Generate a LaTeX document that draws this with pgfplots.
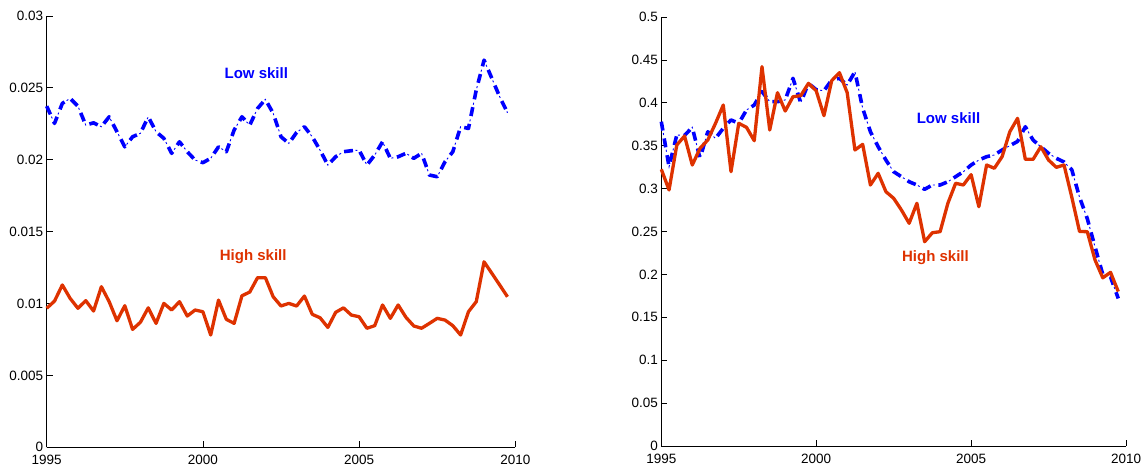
\documentclass[border=0pt]{standalone}
\usepackage{fontspec}
\setmainfont{Liberation Sans}
\usepackage{pgfplots}
\usepackage{pgfplotstable}
\pgfplotsset{compat=1.18}
\definecolor{lowblue}{RGB}{0,0,255}
\definecolor{highred}{RGB}{222,50,0}

% quarterly series, left panel (L) and right panel (R)
\pgfplotstableread{
x       lowL     highL    lowR    highR
1995.00 0.02373  0.00967  0.378   0.3225
1995.25 0.02253  0.01017  0.3255  0.2984
1995.50 0.02392  0.01129  0.3625  0.3508
1995.75 0.02427  0.01036  0.362   0.3613
1996.00 0.02373  0.00967  0.3714  0.3275
1996.25 0.02241  0.0102   0.3353  0.347
1996.50 0.02257  0.00948  0.3663  0.3566
1996.75 0.0223   0.01117  0.3586  0.3761
1997.00 0.02299  0.01013  0.3703  0.3974
1997.25 0.02195  0.0088   0.380   0.3197
1997.50 0.0209   0.00985  0.3761  0.3761
1997.75 0.0216   0.0082   0.3916  0.3714
1998.00 0.02184  0.0087   0.3974  0.3558
1998.25 0.02299  0.0097   0.413   0.4421
1998.50 0.02195  0.00862  0.4013  0.3683
1998.75 0.02149  0.01001  0.4013  0.4118
1999.00 0.02045  0.00955  0.4033  0.3904
1999.25 0.02125  0.01013  0.4285  0.4071
1999.50 0.02056  0.00913  0.4001  0.4083
1999.75 0.01998  0.00955  0.4227  0.4227
2000.00 0.0198   0.00943  0.4153  0.414
2000.25 0.0201   0.00781  0.414   0.385
2000.50 0.0209   0.01024  0.4266  0.4258
2000.75 0.02056  0.0089   0.4285  0.4351
2001.00 0.02207  0.00862  0.4207  0.4118
2001.25 0.02299  0.01054  0.4362  0.345
2001.50 0.02241  0.0108   0.3936  0.3516
2001.75 0.02357  0.0118   0.3663  0.3042
2002.00 0.0242   0.0118   0.3488  0.3178
2002.25 0.02323  0.01047  0.3333  0.2964
2002.50 0.0216   0.00983  0.3197  0.2887
2002.75 0.02114  0.01001  0.3139  0.2751
2003.00 0.0219   0.00983  0.308   0.2596
2003.25 0.0223   0.01052  0.3042  0.2829
2003.50 0.0216   0.00925  0.2992  0.2381
2003.75 0.02067  0.00901  0.3042  0.2486
2004.00 0.01963  0.00834  0.3042  0.2498
2004.25 0.02021  0.00939  0.308   0.2829
2004.50 0.02056  0.0097   0.3139  0.3062
2004.75 0.02063  0.0092   0.3197  0.3042
2005.00 0.02067  0.00908  0.3275  0.3163
2005.25 0.01963  0.00828  0.3333  0.2789
2005.50 0.02033  0.00846  0.3372  0.3275
2005.75 0.02125  0.0099   0.3392  0.3237
2006.00 0.0201   0.00897  0.345   0.3372
2006.25 0.02021  0.0099   0.350   0.3663
2006.50 0.02045  0.00904  0.355   0.3819
2006.75 0.0201   0.00844  0.3721  0.3341
2007.00 0.02045  0.00828  0.3566  0.3341
2007.25 0.01894  0.00862  0.3488  0.3488
2007.50 0.01882  0.00897  0.3411  0.3333
2007.75 0.01986  0.00885  0.3353  0.3248
2008.00 0.02056  0.00846  0.331   0.3275
2008.25 0.0223   0.00781  0.322   0.290
2008.50 0.02218  0.00943  0.290   0.250
2008.75 0.02485  0.01013  0.265   0.2498
2009.00 0.02693  0.0129   0.232   0.2168
2009.25 0.02566  0.0121   0.200   0.196
2009.50 0.02438  0.01129  0.197   0.2024
2009.75 0.02327  0.01047  0.172   0.180
}\skilldata

\tikzset{
  lowthick/.style={lowblue, line width=3.6pt, line join=round, dash pattern=on 9pt off 8pt},
  lowthin/.style={lowblue, line width=0.9pt, dash pattern=on 0pt off 11.5pt on 2pt off 3.5pt},
  highline/.style={highred, line width=3.3pt, line join=round},
  lbl/.style={font=\bfseries\fontsize{15}{18}\selectfont},
}
\pgfplotsset{
  panel/.style={
    scale only axis,
    axis lines*=left,
    axis line style={black, line width=0.8pt},
    tick align=inside,
    major tick length=6pt,
    tick style={black, line width=0.8pt},
    scaled ticks=false,
    xmin=1995, xmax=2010,
    xtick={1995,2000,2005,2010},
    xticklabels={1995,2000,2005,2010},
    ticklabel style={font=\fontsize{13.5}{15}\selectfont},
    xticklabel style={yshift=-4.5pt},
    clip=false,
  },
}

\begin{document}
\begin{tikzpicture}
\useasboundingbox (-46.7pt,-21.7pt) rectangle (1100.3pt,447.3pt);

\begin{axis}[panel,
    at={(0pt,0pt)}, anchor=south west,
    width=468.6pt, height=431.3pt,
    ymin=0, ymax=0.03,
    ytick={0,0.005,0.01,0.015,0.02,0.025,0.03},
    yticklabels={0,0.005,0.01,0.015,0.02,0.025,0.03}]
\addplot[lowthick] table[x=x, y=lowL] {\skilldata};
\addplot[lowthin] table[x=x, y=lowL] {\skilldata};
\addplot[highline] table[x=x, y=highL] {\skilldata};
\node[lbl, text=lowblue] at (axis cs:2001.71,0.02603) {Low skill};
\node[lbl, text=highred] at (axis cs:2001.61,0.01323) {High skill};
\end{axis}

\begin{axis}[panel,
    at={(614.6pt,1.3pt)}, anchor=south west,
    width=464.7pt, height=429pt,
    ymin=0, ymax=0.5,
    ytick={0,0.05,0.1,0.15,0.2,0.25,0.3,0.35,0.4,0.45,0.5},
    yticklabels={0,0.05,0.1,0.15,0.2,0.25,0.3,0.35,0.4,0.45,0.5}]
\addplot[lowthick] table[x=x, y=lowR] {\skilldata};
\addplot[lowthin] table[x=x, y=lowR] {\skilldata};
\addplot[highline] table[x=x, y=highR] {\skilldata};
\node[lbl, text=lowblue] at (axis cs:2004.27,0.3825) {Low skill};
\node[lbl, text=highred] at (axis cs:2003.85,0.2195) {High skill};
\end{axis}
\end{tikzpicture}
\end{document}
